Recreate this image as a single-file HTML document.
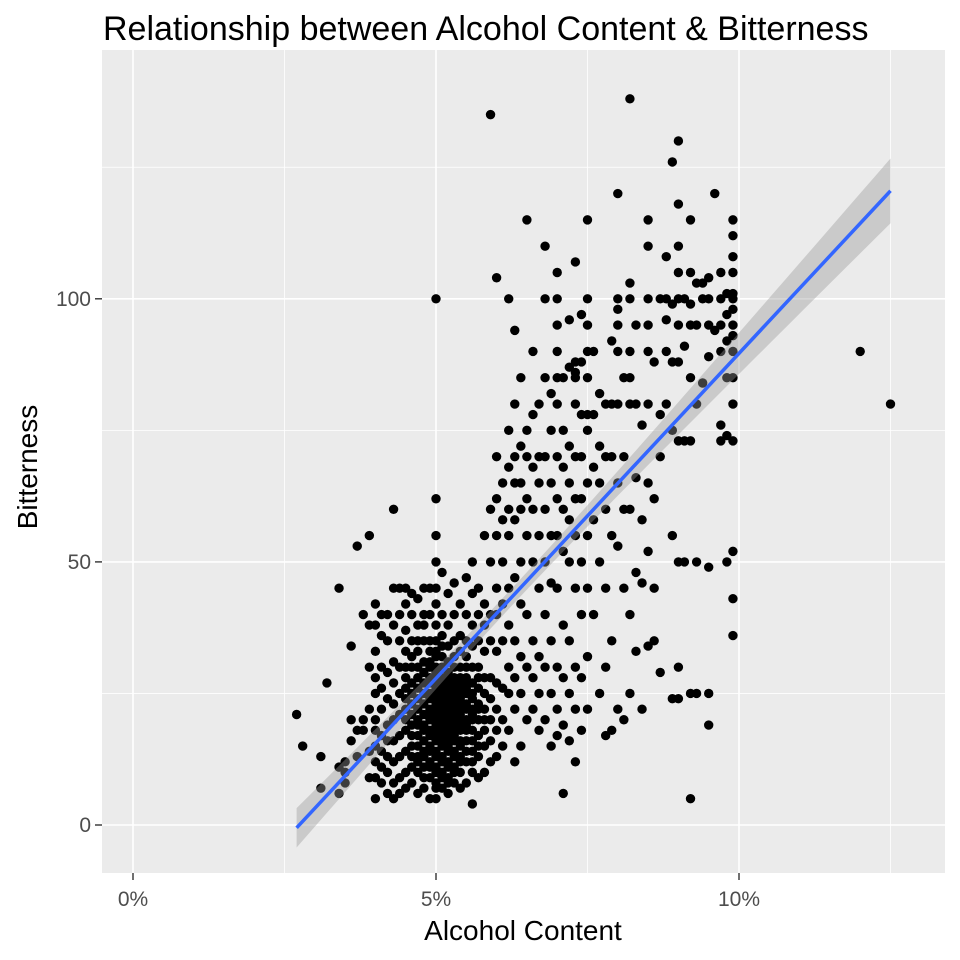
<!DOCTYPE html>
<html><head><meta charset="utf-8"><style>
body{margin:0;background:#fff;}
svg{display:block;font-family:"Liberation Sans",sans-serif;}
</style></head><body>
<svg id="chart" width="960" height="960"></svg>
<script>
const xTickValues = [0, 5, 10];
const xTickLabels = ["0%", "5%", "10%"];
const yTickValues = [0, 50, 100];
const yTickLabels = ["0", "50", "100"];
const abvLevels = [2.7,2.8,3.1,3.2,3.4,3.5,3.6,3.7,3.8,3.9,4.0,4.1,4.2,4.3,4.4,4.5,4.6,4.7,4.8,4.9,5.0,5.1,5.2,5.3,5.4,5.5,5.6,5.7,5.8,5.9,6.0,6.1,6.2,6.3,6.4,6.5,6.6,6.7,6.8,6.9,7.0,7.1,7.2,7.3,7.4,7.5,7.6,7.7,7.8,7.9,8.0,8.1,8.2,8.3,8.4,8.5,8.6,8.7,8.8,8.9,9.0,9.1,9.2,9.3,9.4,9.5,9.6,9.7,9.8,9.9,12.0,12.5];
const ibuAtLevel = [
[21],[15],[7,13],[27],[6,11,45],[8,10,12],[16,20,34],[13,18,53],[18,20,40],[9,14,22,30,38,55],
[5,9,12,15,18,20,25,28,33,38,42],
[8,11,14,17,22,26,30,36,40],
[6,10,13,16,19,24,29,35,40],
[5,8,12,16,20,23,27,31,38,45,60],
[6,9,13,17,21,25,30,35,40,45],
[7,10,14,18,20,22,24,26,28,30,33,37,42,45],
[8,11,13,15,17,19,21,23,25,27,30,32,35,40,44],
[6,10,12,13,15,17,19,20,22,24,26,28,30,33,35,38,43],
[7,9,11,13,14,16,18,19,21,23,25,27,29,31,35,38,40,45],
[5,9,11,12,14,15,17,18,20,21,22,24,25,27,28,30,31,33,35,40,45],
[5,7,8,10,11,13,14,16,17,18,19,20,21,22,23,24,25,26,27,28,29,30,32,33,35,38,42,45,50,55,62,100],
[7,9,10,12,13,15,16,17,18,19,20,21,22,23,24,25,26,27,28,30,32,34,36,40,48],
[6,8,9,11,12,14,15,16,17,18,19,20,21,22,23,24,25,26,27,28,29,31,34,38,44],
[8,10,11,13,14,16,17,18,19,20,21,22,23,24,25,26,27,28,30,32,35,40,46],
[7,10,12,13,15,16,18,19,20,21,22,23,24,25,26,27,28,30,33,36,42],
[8,12,14,16,18,19,20,22,23,25,26,27,28,30,32,35,40,47],
[4,10,12,14,16,18,20,21,22,24,25,27,30,34,38,44,50],
[9,13,15,17,20,22,23,26,28,30,35,40,45],
[10,15,18,20,22,25,28,33,38,42,55],
[12,16,20,24,28,35,40,50,60,135],
[13,18,22,27,33,40,45,55,62,70,104],
[15,20,26,35,42,50,58,65],
[18,25,30,38,45,55,60,68,75,100],
[12,22,28,35,47,58,65,70,80,94],
[15,25,32,42,50,60,65,72,85],
[20,30,40,55,62,70,75,115],
[22,28,35,50,60,68,78,90],
[18,25,32,45,55,65,70,80],
[20,30,40,50,60,70,85,100,110],
[15,25,35,46,55,65,75,82],
[17,22,30,45,55,62,70,80,85,90,95,100,105],
[6,19,28,38,52,60,68,75,85],
[16,25,35,50,58,65,72,87,96],
[12,22,30,45,55,62,70,80,85,86,88,107],
[18,28,40,50,62,70,78,88,97],
[22,32,45,55,65,75,78,85,90,95,100,115],
[40,58,68,78,90],
[25,50,65,72,82],
[17,30,45,60,70,80],
[18,35,55,70,80,92],
[22,53,65,80,90,95,98,100,120],
[20,45,60,70,85],
[25,40,60,80,85,90,100,103,138],
[33,48,66,80,95],
[22,46,58,76],
[34,52,65,80,90,95,100,110,115],
[35,45,62,88],
[29,70,78,100],
[80,90,96,100,108],
[24,55,75,88,99,126],
[24,30,50,73,88,95,100,105,110,118,130],
[50,73,91,100],
[5,25,73,85,95,99,105,115],
[25,50,80,95,103],
[84,100,103],
[19,25,49,89,95,100,104],
[94,120],
[73,76,90,95,100,105],
[50,74,85,92,97,101],
[36,43,52,73,80,85,90,93,95,98,100,101,105,108,112,115],
[90],[80]
];

const NS="http://www.w3.org/2000/svg";
const svg=document.getElementById('chart');
const P={l:102,r:945,t:50,b:873};
function xs(v){return 133+v*60.6;}
function ys(v){return 825-v*5.262;}
function mk(tag,attrs,parent){const e=document.createElementNS(NS,tag);for(const k in attrs)e.setAttribute(k,attrs[k]);(parent||svg).appendChild(e);return e;}

const bg=mk('rect',{x:P.l,y:P.t,width:P.r-P.l,height:P.b-P.t,fill:'#ebebeb'});


[2.5,7.5,12.5].forEach(v=>{const l=mk('line',{x1:xs(v),x2:xs(v),y1:P.t,y2:P.b,stroke:'#fff','stroke-width':0.8});

});
[25,75,125].forEach(v=>{const l=mk('line',{x1:P.l,x2:P.r,y1:ys(v),y2:ys(v),stroke:'#fff','stroke-width':0.8});

});
xTickValues.forEach((v,i)=>{const l=mk('line',{x1:xs(v),x2:xs(v),y1:P.t,y2:P.b,stroke:'#fff','stroke-width':1.6});


const t=mk('line',{x1:xs(v),x2:xs(v),y1:P.b,y2:P.b+7,stroke:'#333','stroke-width':1.4});


const tx=mk('text',{x:xs(v),y:P.b+33,'text-anchor':'middle','font-size':21,fill:'#4d4d4d'});tx.textContent=xTickLabels[i];

});
yTickValues.forEach((v,i)=>{const l=mk('line',{x1:P.l,x2:P.r,y1:ys(v),y2:ys(v),stroke:'#fff','stroke-width':1.6});


const t=mk('line',{x1:P.l-7,x2:P.l,y1:ys(v),y2:ys(v),stroke:'#333','stroke-width':1.4});


const tx=mk('text',{x:P.l-11,y:ys(v)+7,'text-anchor':'end','font-size':21,fill:'#4d4d4d'});tx.textContent=yTickLabels[i];

});

const X=[],Y=[];
abvLevels.forEach((a,i)=>ibuAtLevel[i].forEach(b=>{X.push(a);Y.push(b);
const c=mk('circle',{cx:xs(a),cy:ys(b),r:4.7,fill:'#000'});

}));

const n=X.length,mx=X.reduce((s,v)=>s+v,0)/n,my=Y.reduce((s,v)=>s+v,0)/n;
let sxx=0,sxy=0;for(let i=0;i<n;i++){sxx+=(X[i]-mx)**2;sxy+=(X[i]-mx)*(Y[i]-my);}
const slope=sxy/sxx,icpt=my-slope*mx;
let sse=0;for(let i=0;i<n;i++)sse+=(Y[i]-icpt-slope*X[i])**2;
const s=Math.sqrt(sse/(n-2));
const xmin=Math.min(...X),xmax=Math.max(...X);
const up=[],lo=[];
for(let k=0;k<=40;k++){const x=xmin+(xmax-xmin)*k/40;const f=icpt+slope*x;const se=1.96*s*Math.sqrt(1/n+(x-mx)**2/sxx);
up.push(xs(x)+','+ys(f+se));lo.unshift(xs(x)+','+ys(f-se));}
const band=mk('polygon',{points:up.concat(lo).join(' '),fill:'#999','fill-opacity':0.4});


const rl=mk('line',{x1:xs(xmin),y1:ys(icpt+slope*xmin),x2:xs(xmax),y2:ys(icpt+slope*xmax),stroke:'#3366ff','stroke-width':3.5});



const title=mk('text',{x:103,y:40,'font-size':34,fill:'#000'});title.textContent='Relationship between Alcohol Content & Bitterness';


const xt=mk('text',{x:523,y:940,'text-anchor':'middle','font-size':28,fill:'#000'});xt.textContent='Alcohol Content';


const yt=mk('text',{x:0,y:0,'text-anchor':'middle','font-size':28,fill:'#000',transform:'translate(37,467) rotate(-90)'});yt.textContent='Bitterness';


</script>
</body></html>
